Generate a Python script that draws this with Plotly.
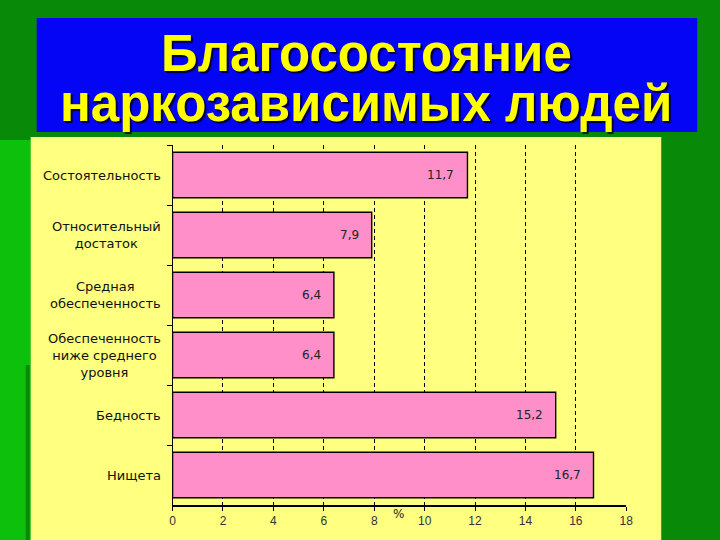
import plotly.graph_objects as go

# data, top to bottom as in the picture
categories = [
    "Состоятельность",
    "Относительный<br>достаток",
    "Средная<br>обеспеченность",
    "Обеспеченность<br>ниже среднего<br>уровня",
    "Бедность",
    "Нищета",
]
values = [11.7, 7.9, 6.4, 6.4, 15.2, 16.7]
x_ticks = [0, 2, 4, 6, 8, 10, 12, 14, 16, 18]

title_lines = ["Благосостояние", "наркозависимых людей"]

W, H = 720, 540
PINK = "#ff8fc8"
YELLOW = "#ffff80"
GREEN = "#088a08"
BLUE = "#0505f5"
FONT = "Arial, Liberation Sans, sans-serif"
LABEL_FONT = "DejaVu Sans, sans-serif"


def px_x(p):
    # the page comes out ~1.3% narrower on screen, offset by ~2px,
    # so map wanted screen pixels back to figure pixels
    return (p - 2.3) / 0.9868 / W


def px_y(p):
    return 1 - p / H


fig = go.Figure()

fig.add_trace(go.Bar(
    x=values,
    y=categories,
    orientation="h",
    marker=dict(color=PINK, line=dict(color="black", width=1.4)),
    width=0.76,
    hoverinfo="skip",
))

# labels inside bar ends
for cat, val in zip(categories, values):
    fig.add_annotation(
        x=val, y=cat, xref="x", yref="y",
        text=f"{val:.1f}".replace(".", ","),
        showarrow=False, xanchor="right", xshift=-11,
        font=dict(family=LABEL_FONT, size=12, color="#222"),
    )

# category labels, centred lines, right anchored
for cat in categories:
    fig.add_annotation(
        x=px_x(162), y=cat, xref="paper", yref="y",
        text=cat, showarrow=False, xanchor="right", align="center",
        font=dict(family=LABEL_FONT, size=13, color="#111"),
    )

fig.add_annotation(
    x=px_x(398), y=px_y(523), xref="paper", yref="paper",
    text="%", showarrow=False,
    font=dict(family=LABEL_FONT, size=12, color="#222"),
)

# title in blue box
for txt, yc in zip(title_lines, [54, 103]):
    fig.add_annotation(
        x=px_x(366), y=px_y(yc), xref="paper", yref="paper",
        text=txt, showarrow=False, yanchor="middle",
        font=dict(family=FONT, size=51, color="#ffff00", weight="bold",
                  shadow="2px 2px 1px rgba(0,0,0,0.75)"),
    )

shapes = [
    dict(type="rect", xref="paper", yref="paper", x0=-0.01, x1=px_x(30),
         y0=0, y1=px_y(140), fillcolor="#0cc00c", line_width=0, layer="below"),
    dict(type="rect", xref="paper", yref="paper", x0=px_x(25), x1=px_x(29),
         y0=0, y1=px_y(365), fillcolor="#0a8a0a", line_width=0, layer="below"),
    dict(type="rect", xref="paper", yref="paper", x0=px_x(30), x1=px_x(661),
         y0=0, y1=px_y(137), fillcolor=YELLOW, line_width=0, layer="below"),
    dict(type="rect", xref="paper", yref="paper", x0=px_x(36), x1=px_x(697),
         y0=px_y(132), y1=px_y(18), fillcolor=BLUE, line_width=0, layer="below"),
]

fig.update_layout(
    width=W, height=H,
    autosize=False,
    margin=dict(l=0, r=0, t=0, b=0),
    paper_bgcolor=GREEN,
    plot_bgcolor="rgba(0,0,0,0)",
    showlegend=False,
    shapes=shapes,
    bargap=0.24,
    xaxis=dict(
        domain=[px_x(172), px_x(626)],
        range=[0, 18], tickvals=x_ticks,
        showgrid=True, gridcolor="black", gridwidth=1, griddash="4px,3px",
        zeroline=False,
        showline=True, linecolor="black", linewidth=2,
        ticks="outside", ticklen=4, tickcolor="black",
        tickfont=dict(family=FONT, size=12, color="#333"),
    ),
    yaxis=dict(
        domain=[px_y(505), px_y(145)],
        autorange="reversed",
        showticklabels=False, showgrid=False, zeroline=False,
        showline=True, linecolor="black", linewidth=1,
        ticks="outside", ticklen=5, tickcolor="black", tickson="boundaries",
    ),
)

# page has a default body margin and may scroll, drop both
page_fix = ("document.body.style.margin = '0';"
            "document.body.style.overflow = 'hidden';"
            "document.body.style.background = '%s';" % GREEN)

fig.write_html("out.html", post_script=page_fix,
               config={"displayModeBar": False, "responsive": False})
